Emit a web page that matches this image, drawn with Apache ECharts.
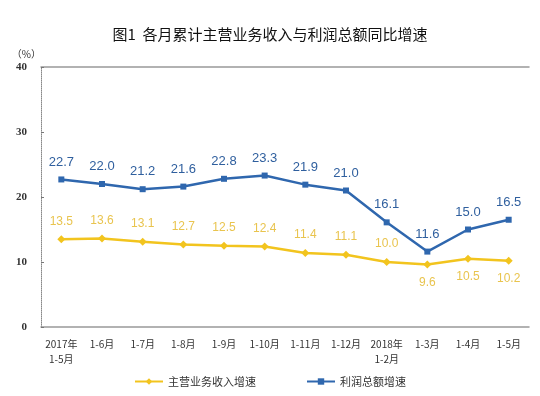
<!doctype html>
<html>
<head>
    <meta charset="utf-8">
    <title>图1</title>
    <script src="https://cdn.jsdelivr.net/npm/echarts@6/dist/echarts.min.js"></script>
</head>
<style>
    html, body { margin: 0; padding: 0; background: #fff; }
    #chart { width: 540px; height: 396px; }
</style>
<body>
<div id="chart"></div>
<script>
  var months = ['2017年\n1-5月', '1-6月', '1-7月', '1-8月', '1-9月', '1-10月', '1-11月',
    '1-12月', '2018年\n1-2月', '1-3月', '1-4月', '1-5月'];
  var revenue = [13.5, 13.6, 13.1, 12.7, 12.5, 12.4, 11.4, 11.1, 10.0, 9.6, 10.5, 10.2];
  var profit = [22.7, 22.0, 21.2, 21.6, 22.8, 23.3, 21.9, 21.0, 16.1, 11.6, 15.0, 16.5];
  // 这几个点的标签放在线下方
  var revenueBelow = [9, 10, 11];

  var font = '"Noto Sans CJK SC", sans-serif';
  var fmt = function (p) { return Number(p.value).toFixed(1); };
  var myChart = echarts.init(document.getElementById('chart'));

  var option = {
    animation: false,
    title: {
      text: '图1  各月累计主营业务收入与利润总额同比增速',
      left: 'center',
      top: 22,
      textStyle: { fontFamily: font, fontSize: 15, fontWeight: 'normal', color: '#111' }
    },
    legend: {
      bottom: 4,
      left: 'center',
      itemGap: 50,
      itemWidth: 28,
      itemHeight: 8,
      textStyle: { fontFamily: font, fontSize: 11, color: '#333' },
      data: ['主营业务收入增速', '利润总额增速']
    },
    grid: { left: 41, right: 11, top: 67, bottom: 69 },
    xAxis: [{
      type: 'category',
      data: months,
      axisLine: { lineStyle: { color: '#999', width: 1.5 } },
      axisTick: { inside: true, length: 4, lineStyle: { color: '#777' } },
      axisLabel: { interval: 0, fontFamily: font, fontSize: 10, color: '#333', margin: 10, lineHeight: 15 }
    }, {
      type: 'category',
      position: 'top',
      data: months,
      axisLine: { lineStyle: { color: '#999', width: 1.5 } },
      axisTick: { show: false },
      axisLabel: { show: false }
    }],
    yAxis: {
      type: 'value',
      min: 0,
      max: 40,
      interval: 10,
      name: '（%）',
      nameGap: 8,
      nameTextStyle: { fontFamily: font, fontSize: 10, color: '#333', align: 'right' },
      axisLine: { show: true, lineStyle: { color: '#888', type: 'dotted' } },
      axisTick: { show: true, inside: true, length: 3, lineStyle: { color: '#777' } },
      splitLine: { show: false },
      axisLabel: { fontFamily: '"Liberation Serif", serif', fontSize: 11, fontWeight: 'bold', color: '#333', margin: 14 }
    },
    series: [{
      name: '主营业务收入增速',
      type: 'line',
      data: revenue.map(function (v, i) {
        return {
          value: v,
          label: { position: revenueBelow.indexOf(i) >= 0 ? 'bottom' : 'top' }
        };
      }),
      color: '#f2c41e',
      symbol: 'diamond',
      symbolSize: 8,
      lineStyle: { width: 2.5, color: '#f2c41e' },
      itemStyle: { color: '#f2c41e' },
      label: {
        show: true,
        distance: 8,
        formatter: fmt,
        fontFamily: '"Liberation Sans", sans-serif',
        fontSize: 12,
        color: '#e9c44e'
      }
    }, {
      name: '利润总额增速',
      type: 'line',
      data: profit,
      color: '#2f67ae',
      symbol: 'rect',
      symbolSize: 6,
      lineStyle: { width: 2.5, color: '#2f67ae' },
      itemStyle: { color: '#2f67ae' },
      label: {
        show: true,
        position: 'top',
        distance: 8,
        formatter: fmt,
        fontFamily: '"Liberation Sans", sans-serif',
        fontSize: 13,
        color: '#2f5f9e'
      }
    }]
  };

  myChart.setOption(option);
</script>
</body>
</html>
